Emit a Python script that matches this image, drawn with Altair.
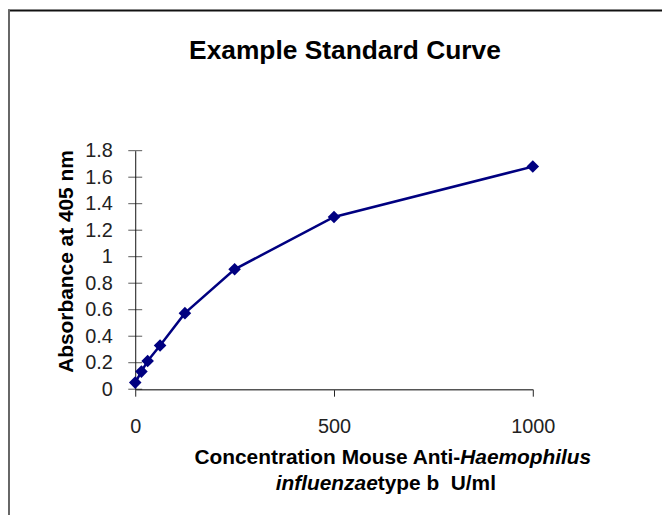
import altair as alt
import pandas as pd

# ---- data ----
concentration = [0, 15.625, 31.25, 62.5, 125, 250, 500, 1000]
absorbance = [0.05, 0.133, 0.213, 0.33, 0.574, 0.905, 1.30, 1.68]
y_tick_values = [0, 0.2, 0.4, 0.6, 0.8, 1.0, 1.2, 1.4, 1.6, 1.8]
x_tick_values = [0, 500, 1000]

chart_title = "Example Standard Curve"
y_title = "Absorbance at 405 nm"
x_title_1a = "Concentration Mouse Anti-"
x_title_1b = "Haemophilus"
x_title_2a = "influenzae"
x_title_2b = "type b\u00a0 U/ml"

FONT = "Liberation Sans"
NAVY = "#000080"

df = pd.DataFrame({"conc": concentration, "abs": absorbance})
ticks_df = pd.DataFrame({"abs": y_tick_values})
one = pd.DataFrame({"k": [0]})

x_enc = alt.X(
    "conc:Q",
    scale=alt.Scale(domain=[0, 1000], nice=False, zero=True),
    axis=alt.Axis(
        values=x_tick_values, format="d", title=None, grid=False,
        tickSize=7, tickColor="#222", tickWidth=1,
        domainColor="#555", domainWidth=1.5,
        labelFont=FONT, labelFontSize=20, labelColor="#222",
        labelPadding=21, labelFlush=False,
    ),
)
y_enc = alt.Y(
    "abs:Q",
    scale=alt.Scale(domain=[0, 1.8], nice=False),
    axis=alt.Axis(
        values=y_tick_values, format="~g", grid=False, ticks=False,
        domainColor="#111", domainWidth=1,
        labelFont=FONT, labelFontSize=20, labelColor="#222",
        labelPadding=23,
        title=y_title, titleFont=FONT, titleFontSize=21, titleFontWeight="bold",
        titleColor="#000", titleAngle=270, titleAlign="center",
        titleBaseline="alphabetic", titleX=-63, titleY=111,
    ),
)

line = alt.Chart(df).mark_line(color=NAVY, strokeWidth=2.5).encode(x=x_enc, y=y_enc)
points = alt.Chart(df).mark_point(
    shape="diamond", filled=True, size=160, color=NAVY, opacity=1
).encode(x="conc:Q", y=y_enc)

yticks = alt.Chart(ticks_df).mark_tick(
    orient="horizontal", size=14, thickness=1, color="#111"
).encode(y=y_enc, x=alt.value(0))


def txt(text, x, y, size, align="center", italic=False):
    return alt.Chart(one).mark_text(
        text=text, font=FONT, fontSize=size, fontWeight="bold",
        fontStyle="italic" if italic else "normal",
        align=align, baseline="alphabetic", color="#000",
    ).encode(x=alt.value(x), y=alt.value(y))


title = txt(chart_title, 211, -92, 26.5)
xt1a = txt(x_title_1a, 327, 315, 21, align="right")
xt1b = txt(x_title_1b, 327, 315, 21, align="left", italic=True)
xt2a = txt(x_title_2a, 244, 341, 21, align="right", italic=True)
xt2b = txt(x_title_2b, 244, 341, 21, align="left")

border_top = alt.Chart(one).mark_rule(color="#111", strokeWidth=2).encode(
    x=alt.value(-128), x2=alt.value(530), y=alt.value(-141)
)
border_left = alt.Chart(one).mark_rule(color="#666", strokeWidth=2).encode(
    x=alt.value(-127), y=alt.value(-142), y2=alt.value(370)
)

chart = alt.layer(
    border_top, border_left, yticks, line, points, title, xt1a, xt1b, xt2a, xt2b
).properties(
    width=400, height=240,
    autosize=alt.AutoSizeParams(type="none"),
    padding={"left": 128, "top": 142, "right": 130, "bottom": 125},
).configure(background="#ffffff").configure_view(stroke=None)

chart.save("out.html", embed_options={"renderer": "svg", "actions": False})
